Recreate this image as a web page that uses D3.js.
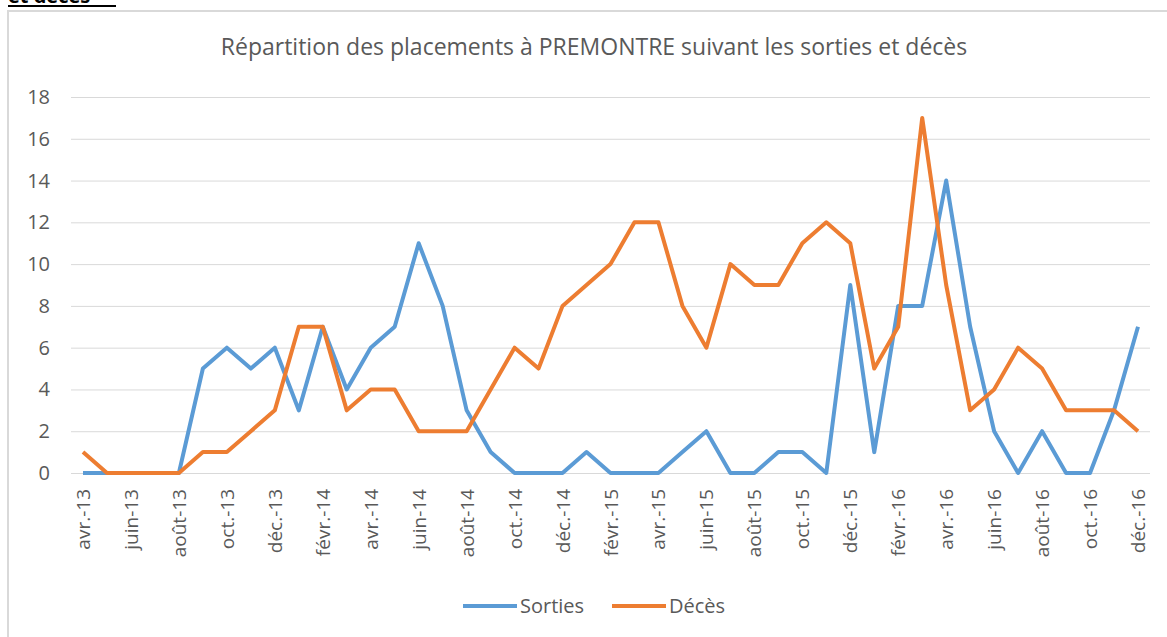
<!DOCTYPE html>
<html>
<head>
<meta charset="utf-8" />
<title>Répartition des placements à PREMONTRE</title>
<script src="https://cdn.jsdelivr.net/npm/d3@7"></script>
<style>
  body { margin: 0; padding: 0; background: #fff; }
  svg { display: block; font-family: "Open Sans", "Liberation Sans", sans-serif; }
  .grid line { stroke: #d9d9d9; stroke-width: 1; }
  .lbl { fill: #595959; }
</style>
</head>
<body>
<svg id="chart" width="1167" height="637"></svg>
<script>
// months from avr.-13 to déc.-16
var months = ["avr.-13","mai-13","juin-13","juil.-13","août-13","sept.-13","oct.-13","nov.-13","déc.-13",
  "janv.-14","févr.-14","mars-14","avr.-14","mai-14","juin-14","juil.-14","août-14","sept.-14","oct.-14","nov.-14","déc.-14",
  "janv.-15","févr.-15","mars-15","avr.-15","mai-15","juin-15","juil.-15","août-15","sept.-15","oct.-15","nov.-15","déc.-15",
  "janv.-16","févr.-16","mars-16","avr.-16","mai-16","juin-16","juil.-16","août-16","sept.-16","oct.-16","nov.-16","déc.-16"];

var sorties = [0,0,0,0,0,5,6,5,6, 3,7,4,6,7,11,8,3,1,0,0,0, 1,0,0,0,1,2,0,0,1,1,0,9, 1,8,8,14,7,2,0,2,0,0,3,7];
var deces   = [1,0,0,0,0,1,1,2,3, 7,7,3,4,4,2,2,2,4,6,5,8, 9,10,12,12,8,6,10,9,9,11,12,11, 5,7,17,9,3,4,6,5,3,3,3,2];

var yTicks = [0,2,4,6,8,10,12,14,16,18];
var seriesNames = ["Sorties","Décès"];
var seriesColors = ["#5b9bd5","#ed7d31"];

var svg = d3.select("#chart");

// chart frame + cut-off heading above it
svg.append("rect")
    .attr("x", 8).attr("y", 11)
    .attr("width", 1170).attr("height", 640)
    .attr("fill", "none")
    .attr("stroke", "#d9d9d9")
    .attr("stroke-width", 2);
svg.append("text")
    .attr("x", 8).attr("y", 3)
    .attr("font-weight", "bold")
    .attr("font-size", 20)
    .attr("fill", "#000")
    .text("et décès");
svg.append("rect")
    .attr("x", 8).attr("y", 5)
    .attr("width", 108).attr("height", 2)
    .attr("fill", "#000");

svg.append("text")
    .attr("class", "lbl")
    .attr("x", 594).attr("y", 55)
    .attr("text-anchor", "middle")
    .attr("font-size", 23)
    .text("Répartition des placements à PREMONTRE suivant les sorties et décès");

var x = d3.scalePoint()
    .domain(months)
    .range([83, 1138]);
var y = d3.scaleLinear()
    .domain([0, 18])
    .range([473, 97]);

// gridlines
svg.append("g")
    .attr("class", "grid")
  .selectAll("line")
  .data(yTicks)
  .enter().append("line")
    .attr("x1", 71).attr("x2", 1150)
    .attr("y1", function(d) { return y(d) + 0.5; })
    .attr("y2", function(d) { return y(d) + 0.5; });

// y labels
svg.append("g")
  .selectAll("text")
  .data(yTicks)
  .enter().append("text")
    .attr("class", "lbl")
    .attr("x", 50)
    .attr("y", function(d) { return y(d); })
    .attr("dy", "0.35em")
    .attr("text-anchor", "end")
    .attr("font-size", 20)
    .text(function(d) { return d; });

// x labels, every second month
svg.append("g")
  .selectAll("text")
  .data(months.filter(function(m, i) { return i % 2 === 0; }))
  .enter().append("text")
    .attr("class", "lbl")
    .attr("font-size", 19)
    .attr("text-anchor", "end")
    .attr("transform", function(d) { return "translate(" + (x(d) + 7) + ",489) rotate(-90)"; })
    .text(function(d) { return d; });

var line = d3.line()
    .x(function(d, i) { return x(months[i]); })
    .y(function(d) { return y(d); });

[sorties, deces].forEach(function(s, k) {
  svg.append("path")
      .datum(s)
      .attr("fill", "none")
      .attr("stroke", seriesColors[k])
      .attr("stroke-width", 4)
      .attr("stroke-linejoin", "round")
      .attr("d", line);
});

// legend
var legX = [463, 612];
seriesNames.forEach(function(name, k) {
  var g = svg.append("g").attr("transform", "translate(" + legX[k] + ",606)");
  g.append("line")
      .attr("x1", 0).attr("x2", 54)
      .attr("stroke", seriesColors[k])
      .attr("stroke-width", 4);
  g.append("text")
      .attr("class", "lbl")
      .attr("x", 57)
      .attr("dy", "0.35em")
      .attr("font-size", 20)
      .text(name);
});
</script>
</body>
</html>
